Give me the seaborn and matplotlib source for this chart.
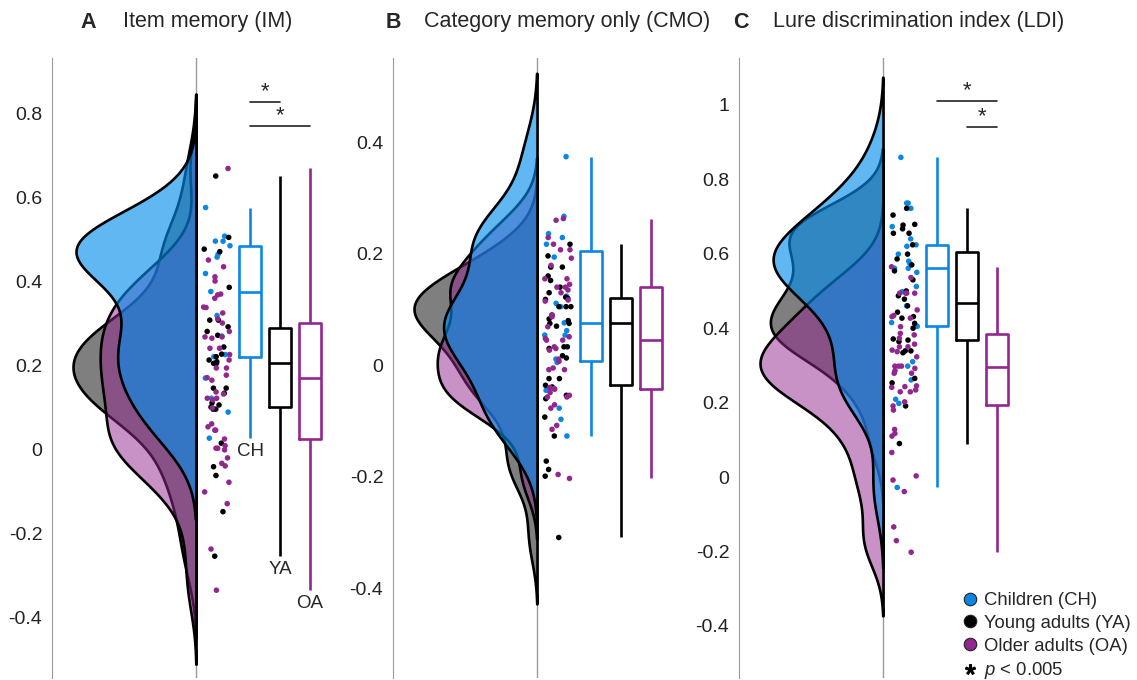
import numpy as np
import pandas as pd
import matplotlib
matplotlib.use('Agg')
import matplotlib.pyplot as plt
from matplotlib.lines import Line2D
import seaborn as sns

# groups
groups = ['CH', 'YA', 'OA']
group_names = ['Children (CH)', 'Young adults (YA)', 'Older adults (OA)']

# A - item memory, one value per participant
im_ch = [0.575, 0.507, 0.495, 0.495, 0.484, 0.464, 0.457, 0.418, 0.375, 0.318, 0.269,
         0.225, 0.22, 0.169, 0.121, 0.088, 0.026]
im_ya = [0.65, 0.504, 0.476, 0.47, 0.385, 0.307, 0.307, 0.291, 0.28, 0.271, 0.243, 0.226,
         0.22, 0.212, 0.208, 0.204, 0.204, 0.145, 0.145, 0.133, 0.11, 0.105, 0.1, 0.095,
         0.095, 0.014, -0.042, -0.063, -0.149, -0.255]
im_oa = [0.668, 0.45, 0.434, 0.41, 0.40, 0.369, 0.367, 0.359, 0.338, 0.337, 0.324, 0.31,
         0.30, 0.28, 0.267, 0.267, 0.264, 0.24, 0.24, 0.225, 0.212, 0.193, 0.193, 0.176,
         0.17, 0.164, 0.136, 0.131, 0.121, 0.121, 0.117, 0.098, 0.06, 0.053, 0.045, 0.045,
         0.024, 0.008, 0.002, 0.002, -0.002, -0.021, -0.034, -0.04, -0.079, -0.102, -0.13,
         -0.238, -0.336]

# B - category memory only
cmo_ch = [0.374, 0.267, 0.236, 0.229, 0.217, 0.194, 0.124, 0.111, 0.105, 0.076, 0.062,
          0.054, 0.054, 0.011, 0.005, -0.045, -0.077, -0.097, -0.127]
cmo_ya = [0.217, 0.196, 0.176, 0.176, 0.16, 0.152, 0.14, 0.13, 0.122, 0.12, 0.118, 0.105,
          0.105, 0.105, 0.09, 0.083, 0.08, 0.075, 0.075, 0.07, 0.033, 0.033, 0.03, 0.017,
          0.013, -0.024, -0.024, -0.036, -0.039, -0.054, -0.06, -0.093, -0.127, -0.172,
          -0.187, -0.199, -0.309]
cmo_oa = [0.263, 0.26, 0.229, 0.217, 0.207, 0.207, 0.192, 0.179, 0.155, 0.155, 0.145, 0.14,
          0.14, 0.135, 0.13, 0.117, 0.115, 0.09, 0.087, 0.069, 0.051, 0.048, 0.045, 0.045,
          0.033, 0.03, 0.027, 0.011, 0.007, -0.005, -0.008, -0.008, -0.04, -0.042, -0.043,
          -0.049, -0.054, -0.057, -0.057, -0.071, -0.077, -0.108, -0.115, -0.196, -0.203]

# C - lure discrimination index
ldi_ch = [0.859, 0.736, 0.736, 0.722, 0.673, 0.64, 0.624, 0.62, 0.599, 0.58, 0.574, 0.561,
          0.561, 0.55, 0.512, 0.498, 0.46, 0.415, 0.405, 0.31, 0.298, 0.261, 0.209, 0.198,
          -0.028]
ldi_ya = [0.722, 0.704, 0.679, 0.677, 0.667, 0.655, 0.655, 0.624, 0.599, 0.586, 0.57, 0.554,
          0.53, 0.5, 0.487, 0.478, 0.46, 0.443, 0.431, 0.427, 0.413, 0.4, 0.371, 0.368,
          0.364, 0.339, 0.339, 0.334, 0.265, 0.253, 0.191, 0.09]
ldi_oa = [0.565, 0.536, 0.494, 0.494, 0.494, 0.494, 0.449, 0.434, 0.431, 0.427, 0.404, 0.386,
          0.382, 0.373, 0.357, 0.35, 0.35, 0.341, 0.337, 0.323, 0.298, 0.298, 0.298, 0.292,
          0.286, 0.279, 0.279, 0.245, 0.243, 0.241, 0.234, 0.229, 0.229, 0.202, 0.191, 0.18,
          0.128, 0.117, 0.11, 0.066, 0.003, -0.008, -0.039, -0.134, -0.171, -0.202]

# axis ticks
im_ticks = [-0.4, -0.2, 0, 0.2, 0.4, 0.6, 0.8]
im_ticklabels = ['-0.4', '-0.2', '0', '0.2', '0.4', '0.6', '0.8']
cmo_ticks = [-0.4, -0.2, 0, 0.2, 0.4]
cmo_ticklabels = ['-0.4', '-0.2', '0', '0.2', '0.4']
ldi_ticks = [-0.4, -0.2, 0, 0.2, 0.4, 0.6, 0.8, 1.0]
ldi_ticklabels = ['-0.4', '-0.2', '0', '0.2', '0.4', '0.6', '0.8', '1']

# significance bars: (from, to, height)
im_sig = [('CH', 'YA', 0.826), ('CH', 'OA', 0.769)]
ldi_sig = [('CH', 'OA', 1.011), ('YA', 'OA', 0.941)]

# styles
line_colors = {'CH': '#0b87e3', 'YA': '#000000', 'OA': '#93278f'}
fill_colors = {'CH': (0.0, 0.55, 0.92, 0.62), 'YA': (0.0, 0.0, 0.0, 0.5),
               'OA': (0.576, 0.153, 0.561, 0.5)}
box_pos = {'CH': 1.8, 'YA': 2.8, 'OA': 3.8}
strip_x = 0.7
violin_w = 4.1
xlim = (-4.8, 4.53)

sns.set_style('white')
plt.rcParams['font.family'] = ['Liberation Sans', 'DejaVu Sans']
plt.rcParams['mathtext.fontset'] = 'custom'
plt.rcParams['mathtext.rm'] = 'Liberation Sans'
plt.rcParams['mathtext.it'] = 'Liberation Sans:italic'
np.random.seed(7)

W, H = 1137, 680
fig = plt.figure(figsize=(W / 100, H / 100), dpi=100)

panels = [
    dict(letter='A', title='Item memory (IM)', vals=[im_ch, im_ya, im_oa],
         ylim=(-0.545, 0.931), ticks=im_ticks, labels=im_ticklabels, sig=im_sig,
         left=52, lx=80, tx=123, group_labels=True),
    dict(letter='B', title='Category memory only (CMO)', vals=[cmo_ch, cmo_ya, cmo_oa],
         ylim=(-0.561, 0.551), ticks=cmo_ticks, labels=cmo_ticklabels, sig=[],
         left=393, lx=386, tx=424, group_labels=False),
    dict(letter='C', title='Lure discrimination index (LDI)', vals=[ldi_ch, ldi_ya, ldi_oa],
         ylim=(-0.54, 1.126), ticks=ldi_ticks, labels=ldi_ticklabels, sig=ldi_sig,
         left=739, lx=733, tx=773, group_labels=False),
]

for p in panels:
    df = pd.concat([pd.DataFrame({'group': g, 'value': v}) for g, v in zip(groups, p['vals'])],
                   ignore_index=True)
    df['strip_x'] = strip_x
    df['box_x'] = df['group'].map(box_pos)

    ax = fig.add_axes([p['left'] / W, 2 / H, 280 / W, 620 / H])
    ax.axvline(0, color='#9a9a9a', lw=1, zorder=0)

    # rain: jittered dots
    sns.stripplot(data=df, x='strip_x', y='value', hue='group', hue_order=groups,
                  palette=line_colors, native_scale=True, orient='x', jitter=0.45,
                  size=4, linewidth=0, legend=False, ax=ax)
    # boxes
    sns.boxplot(data=df, x='box_x', y='value', hue='group', hue_order=groups,
                palette=line_colors, native_scale=True, orient='x', dodge=False,
                fill=False, width=0.73, whis=(0, 100), showfliers=False, showcaps=False,
                linewidth=1.9, legend=False, ax=ax)

    # clouds: half densities drawn leftwards on a twin axis
    ax2 = ax.twiny()
    for g in ['YA', 'OA', 'CH']:
        sns.kdeplot(y=df.loc[df['group'] == g, 'value'], fill=True,
                    facecolor=fill_colors[g], edgecolor='black', linewidth=1.9,
                    bw_adjust=0.8, cut=2.5, ax=ax2)
    dmax = max(c.get_paths()[0].vertices[:, 0].max() for c in ax2.collections)
    ax2.set_xlim(dmax * -xlim[0] / violin_w, -dmax * xlim[1] / violin_w)
    ax2.axis('off')

    ax.set_xlim(*xlim)
    ax.set_ylim(*p['ylim'])
    ax.set_yticks(p['ticks'])
    ax.set_yticklabels(p['labels'])
    ax.set_xticks([])
    ax.set_xlabel('')
    ax.set_ylabel('')
    for s in ['top', 'right', 'bottom']:
        ax.spines[s].set_visible(False)
    ax.spines['left'].set_color('#9a9a9a')
    ax.tick_params(axis='y', direction='in', length=6, color='#9a9a9a',
                   labelsize=14, labelcolor='#222222', pad=7)

    for a, b, y in p['sig']:
        ax.plot([box_pos[a], box_pos[b]], [y, y], color='#222222', lw=1.2, clip_on=False)
        ax.annotate('*', xy=((box_pos[a] + box_pos[b]) / 2, y), xytext=(0, 0),
                    textcoords='offset points', ha='center', va='bottom', fontsize=16)

    if p['group_labels']:
        for g, v in zip(groups, p['vals']):
            ax.text(box_pos[g], min(v) - 0.012, g, ha='center', va='top', fontsize=13.5)

    fig.text(p['lx'] / W, 1 - 22 / H, p['letter'], fontsize=15.5, fontweight='bold',
             va='center', ha='left')
    fig.text(p['tx'] / W, 1 - 22 / H, p['title'], fontsize=15.5, va='center', ha='left')

handles = [Line2D([], [], marker='o', linestyle='', markerfacecolor=line_colors[g],
                  markeredgecolor='#222222', markeredgewidth=0.8, markersize=9)
           for g in groups]
handles.append(Line2D([], [], marker='$*$', linestyle='', color='black', markersize=7))
fig.legend(handles, group_names + [r'$p$ < 0.005'], loc='upper left',
           bbox_to_anchor=(952 / W, 1 - 583 / H), frameon=False, fontsize=13.3,
           handletextpad=0.25, labelspacing=0.31, borderpad=0, handlelength=1.0)

fig.savefig('out.png', dpi=100)
